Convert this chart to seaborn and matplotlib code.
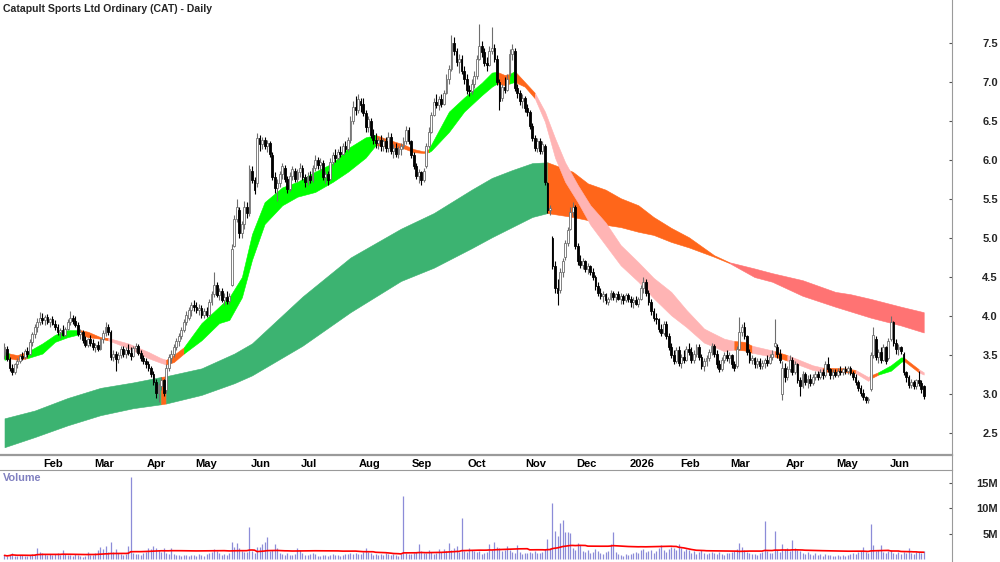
import numpy as np
import pandas as pd
import seaborn as sns
import matplotlib.pyplot as plt
from matplotlib import font_manager
from matplotlib import transforms
from matplotlib.lines import Line2D

title = "Catapult Sports Ltd Ordinary (CAT) - Daily"
start_date = "2025-01-10"
asx_holidays = ["2025-01-27", "2025-04-18", "2025-04-21", "2025-04-25", "2025-06-09",
                "2025-12-25", "2025-12-26", "2026-01-01", "2026-01-26", "2026-04-03",
                "2026-04-06", "2026-06-08"]

# daily OHLC, one line per month
opens = [
    3.50, 3.58, 3.45, 3.33, 3.28, 3.38, 3.43, 3.49, 3.47, 3.55, 3.52, 3.67, 3.77, 3.86, 3.93,
    3.98, 3.95, 3.99, 3.92, 3.96, 3.90, 3.86, 3.79, 3.82, 3.76, 3.84, 3.93, 3.97, 3.94, 3.89, 3.77, 3.80, 3.69, 3.63, 3.70,
    3.66, 3.60, 3.63, 3.58, 3.70, 3.78, 3.86, 3.80, 3.47, 3.52, 3.45, 3.50, 3.58, 3.51, 3.56, 3.53, 3.49, 3.59, 3.62, 3.53, 3.46,
    3.42, 3.38, 3.33, 3.26, 3.16, 3.02, 3.10, 3.18, 3.05, 3.34, 3.46, 3.52, 3.60, 3.68, 3.75, 3.82, 3.92, 3.98, 4.08,
    4.14, 4.12, 4.08, 4.10, 4.02, 4.06, 4.01, 4.18, 4.28, 4.40, 4.27, 4.32, 4.21, 4.25, 4.19, 4.40, 4.90, 5.24, 5.36, 5.06, 5.18, 5.40,
    5.32, 5.86, 5.74, 5.70, 6.28, 6.20, 6.26, 6.18, 6.22, 6.06, 5.78, 5.64, 5.70, 5.82, 5.90, 5.76, 5.63, 5.80, 5.86, 5.76, 5.84,
    5.90, 5.78, 5.72, 5.80, 5.74, 5.90, 6.00, 5.94, 5.96, 5.78, 5.82, 5.76, 5.98, 6.06, 6.02, 6.10, 6.08, 6.18, 6.14, 6.26, 6.50, 6.68, 6.64,
    6.76, 6.72, 6.60, 6.42, 6.50, 6.32, 6.26, 6.22, 6.26, 6.18, 6.24, 6.16, 6.30, 6.12, 6.16, 6.08, 6.14, 6.18, 6.24, 6.38, 6.24,
    6.06, 5.92, 5.80, 5.84, 5.74, 5.92, 6.18, 6.36, 6.58, 6.74, 6.70, 6.78, 6.72, 6.86, 7.04, 7.16, 7.50, 7.40, 7.26, 7.30, 7.14, 7.04,
    6.90, 6.88, 6.98, 7.08, 7.30, 7.46, 7.38, 7.24, 7.22, 7.40, 7.44, 7.30, 7.00, 6.80, 6.94, 6.90, 7.10, 7.36, 7.40, 6.92, 6.86, 6.76, 6.80,
    6.66, 6.62, 6.44, 6.28, 6.16, 6.24, 6.12, 6.18, 5.70, 5.36, 5.00, 4.64, 4.36, 4.34, 4.56, 4.76, 4.94, 5.12, 5.34, 5.40,
    4.90, 4.70, 4.66, 4.70, 4.60, 4.64, 4.56, 4.50, 4.38, 4.30, 4.26, 4.28, 4.18, 4.22, 4.30, 4.24, 4.28, 4.22, 4.26, 4.20, 4.27,
    4.22, 4.18, 4.20, 4.16, 4.22, 4.36, 4.44, 4.30, 4.18, 4.06, 3.98, 3.96, 3.84, 3.78, 3.90, 3.74, 3.60, 3.50, 3.42, 3.56,
    3.40, 3.48, 3.44, 3.58, 3.54, 3.44, 3.52, 3.60, 3.48, 3.36, 3.42, 3.46, 3.54, 3.62, 3.52, 3.38, 3.32, 3.44, 3.50, 3.46,
    3.50, 3.38, 3.36, 3.58, 3.80, 3.86, 3.74, 3.54, 3.44, 3.46, 3.38, 3.42, 3.36, 3.40, 3.44, 3.40, 3.48, 3.62, 3.60, 3.52, 3.00,
    3.34, 3.22, 3.32, 3.44, 3.28, 3.38, 3.18, 3.10, 3.26, 3.16, 3.20, 3.14, 3.22, 3.26, 3.22, 3.28, 3.24, 3.38, 3.32, 3.24, 3.28,
    3.25, 3.30, 3.28, 3.32, 3.29, 3.33, 3.27, 3.22, 3.16, 3.08, 3.02, 2.96, 2.92, 3.06, 3.50, 3.70, 3.48, 3.54, 3.44, 3.60, 3.46,
    3.70, 3.92, 3.66, 3.58, 3.60, 3.52, 3.28, 3.22, 3.12, 3.16, 3.10, 3.18, 3.14, 3.10,
]
highs = [
    3.66, 3.62, 3.47, 3.38, 3.40, 3.46, 3.52, 3.54, 3.58, 3.60, 3.70, 3.80, 3.90, 3.98, 4.05,
    4.04, 4.02, 4.03, 3.98, 4.00, 3.95, 3.90, 3.85, 3.88, 3.86, 3.96, 4.07, 4.02, 4.00, 3.92, 3.84, 3.82, 3.74, 3.72, 3.76,
    3.70, 3.66, 3.68, 3.72, 3.82, 3.92, 3.90, 3.82, 3.56, 3.55, 3.54, 3.62, 3.62, 3.60, 3.64, 3.60, 3.62, 3.66, 3.64, 3.56, 3.50,
    3.46, 3.42, 3.36, 3.30, 3.20, 3.14, 3.22, 3.20, 3.38, 3.52, 3.56, 3.64, 3.72, 3.78, 3.86, 3.96, 4.06, 4.12, 4.18,
    4.20, 4.18, 4.16, 4.14, 4.10, 4.12, 4.22, 4.32, 4.56, 4.44, 4.36, 4.36, 4.30, 4.32, 4.30, 4.92, 5.30, 5.50, 5.40, 5.22, 5.48, 5.46,
    5.94, 5.92, 5.78, 6.34, 6.32, 6.30, 6.30, 6.26, 6.24, 6.10, 5.84, 5.76, 5.86, 5.96, 5.94, 5.80, 5.84, 5.92, 5.90, 5.88, 5.96,
    5.94, 5.82, 5.84, 5.86, 5.94, 6.06, 6.04, 6.02, 6.00, 5.86, 5.86, 6.02, 6.10, 6.14, 6.14, 6.18, 6.22, 6.24, 6.30, 6.56, 6.76, 6.82, 6.84,
    6.80, 6.80, 6.64, 6.56, 6.54, 6.40, 6.34, 6.30, 6.32, 6.28, 6.30, 6.36, 6.34, 6.20, 6.22, 6.18, 6.22, 6.30, 6.44, 6.42, 6.26,
    6.10, 5.96, 5.88, 5.86, 5.90, 6.22, 6.42, 6.62, 6.80, 6.84, 6.82, 6.84, 6.90, 7.10, 7.22, 7.60, 7.58, 7.44, 7.36, 7.34, 7.20, 7.10,
    6.96, 7.04, 7.14, 7.34, 7.74, 7.52, 7.44, 7.32, 7.46, 7.70, 7.48, 7.34, 7.04, 6.98, 7.06, 7.10, 7.42, 7.48, 7.44, 6.98, 6.90, 6.84, 6.82,
    6.72, 6.64, 6.48, 6.32, 6.28, 6.28, 6.24, 6.20, 5.72, 5.42, 5.02, 4.70, 4.48, 4.62, 4.74, 4.98, 5.14, 5.40, 5.46, 5.42,
    4.94, 4.78, 4.74, 4.72, 4.68, 4.66, 4.62, 4.52, 4.44, 4.36, 4.32, 4.30, 4.24, 4.34, 4.32, 4.30, 4.32, 4.30, 4.28, 4.30, 4.30,
    4.26, 4.24, 4.26, 4.24, 4.40, 4.50, 4.48, 4.34, 4.22, 4.10, 4.04, 3.98, 3.90, 3.94, 3.94, 3.78, 3.66, 3.56, 3.60, 3.62,
    3.52, 3.56, 3.62, 3.66, 3.60, 3.56, 3.64, 3.64, 3.52, 3.46, 3.50, 3.58, 3.66, 3.64, 3.56, 3.44, 3.48, 3.54, 3.56, 3.54,
    3.52, 3.42, 3.62, 3.99, 3.90, 3.92, 3.76, 3.58, 3.50, 3.48, 3.46, 3.46, 3.44, 3.46, 3.50, 3.52, 3.56, 3.96, 3.64, 3.58, 3.42,
    3.40, 3.36, 3.50, 3.48, 3.42, 3.40, 3.22, 3.30, 3.28, 3.24, 3.26, 3.26, 3.30, 3.30, 3.32, 3.32, 3.42, 3.47, 3.34, 3.32, 3.32,
    3.34, 3.36, 3.34, 3.36, 3.36, 3.36, 3.30, 3.26, 3.18, 3.12, 3.06, 2.98, 2.96, 3.54, 3.86, 3.74, 3.58, 3.60, 3.64, 3.62, 3.72,
    4.00, 3.94, 3.70, 3.64, 3.62, 3.54, 3.30, 3.24, 3.20, 3.18, 3.20, 3.30, 3.18, 3.12,
]
lows = [
    3.45, 3.42, 3.30, 3.25, 3.26, 3.34, 3.40, 3.44, 3.45, 3.48, 3.50, 3.62, 3.72, 3.80, 3.88,
    3.90, 3.88, 3.90, 3.86, 3.88, 3.82, 3.76, 3.72, 3.74, 3.74, 3.82, 3.88, 3.90, 3.86, 3.74, 3.70, 3.66, 3.60, 3.60, 3.62,
    3.56, 3.54, 3.55, 3.56, 3.66, 3.74, 3.76, 3.44, 3.42, 3.30, 3.40, 3.46, 3.48, 3.46, 3.50, 3.44, 3.47, 3.54, 3.50, 3.42, 3.38,
    3.34, 3.30, 3.22, 3.12, 2.95, 2.90, 3.05, 2.98, 3.02, 3.30, 3.40, 3.48, 3.56, 3.62, 3.70, 3.80, 3.88, 3.95, 4.00,
    4.06, 4.04, 4.02, 3.98, 3.97, 3.99, 4.00, 4.14, 4.24, 4.24, 4.20, 4.18, 4.14, 4.16, 4.15, 4.38, 4.88, 5.20, 5.00, 5.00, 5.12, 5.26,
    5.28, 5.70, 5.56, 5.66, 6.12, 6.14, 6.14, 6.10, 6.04, 5.74, 5.58, 5.48, 5.66, 5.76, 5.72, 5.58, 5.60, 5.74, 5.72, 5.72, 5.78,
    5.74, 5.66, 5.68, 5.70, 5.72, 5.86, 5.88, 5.86, 5.74, 5.70, 5.68, 5.74, 5.94, 5.98, 6.00, 6.04, 6.06, 6.10, 6.12, 6.22, 6.46, 6.58, 6.60,
    6.62, 6.56, 6.36, 6.36, 6.28, 6.20, 6.16, 6.14, 6.12, 6.12, 6.10, 6.10, 6.08, 6.02, 6.04, 6.02, 6.06, 6.14, 6.20, 6.20, 6.02,
    5.88, 5.76, 5.70, 5.68, 5.72, 5.90, 6.16, 6.34, 6.56, 6.66, 6.64, 6.68, 6.70, 6.84, 6.98, 7.14, 7.34, 7.20, 7.12, 7.10, 6.98, 6.84,
    6.82, 6.84, 6.92, 7.04, 7.28, 7.32, 7.20, 7.14, 7.20, 7.36, 7.26, 6.96, 6.64, 6.76, 6.86, 6.88, 7.08, 7.28, 6.88, 6.80, 6.70, 6.66, 6.62,
    6.56, 6.40, 6.24, 6.12, 6.10, 6.08, 6.08, 5.68, 5.32, 5.30, 4.60, 4.30, 4.14, 4.30, 4.50, 4.72, 4.90, 5.10, 5.28, 4.86,
    4.66, 4.62, 4.60, 4.56, 4.54, 4.52, 4.46, 4.34, 4.26, 4.22, 4.18, 4.16, 4.14, 4.20, 4.20, 4.18, 4.20, 4.16, 4.16, 4.18, 4.18,
    4.12, 4.10, 4.14, 4.12, 4.20, 4.30, 4.26, 4.14, 4.02, 3.94, 3.90, 3.80, 3.74, 3.76, 3.70, 3.56, 3.46, 3.38, 3.40, 3.36,
    3.34, 3.40, 3.42, 3.50, 3.40, 3.40, 3.48, 3.44, 3.32, 3.30, 3.36, 3.42, 3.50, 3.48, 3.34, 3.28, 3.30, 3.40, 3.42, 3.40,
    3.34, 3.30, 3.34, 3.56, 3.74, 3.70, 3.50, 3.40, 3.38, 3.34, 3.34, 3.32, 3.32, 3.34, 3.36, 3.38, 3.44, 3.60, 3.46, 3.40, 2.92,
    3.16, 3.18, 3.28, 3.24, 3.26, 3.14, 2.98, 3.08, 3.12, 3.08, 3.10, 3.12, 3.18, 3.18, 3.20, 3.20, 3.22, 3.28, 3.20, 3.20, 3.22,
    3.22, 3.24, 3.24, 3.26, 3.26, 3.24, 3.18, 3.12, 3.04, 2.98, 2.92, 2.88, 2.88, 3.04, 3.46, 3.44, 3.40, 3.40, 3.42, 3.38, 3.44,
    3.68, 3.62, 3.52, 3.50, 3.52, 3.24, 3.16, 3.08, 3.08, 3.06, 3.06, 3.10, 3.02, 2.94,
]
closes = [
    3.60, 3.45, 3.33, 3.28, 3.38, 3.43, 3.49, 3.46, 3.55, 3.52, 3.67, 3.77, 3.86, 3.93, 3.98,
    3.95, 3.99, 3.92, 3.96, 3.90, 3.86, 3.79, 3.82, 3.76, 3.84, 3.93, 3.97, 3.94, 3.89, 3.77, 3.80, 3.69, 3.63, 3.70, 3.66,
    3.60, 3.63, 3.58, 3.70, 3.78, 3.86, 3.80, 3.47, 3.52, 3.45, 3.50, 3.58, 3.51, 3.56, 3.53, 3.49, 3.59, 3.62, 3.53, 3.46, 3.42,
    3.38, 3.33, 3.26, 3.16, 3.02, 3.12, 3.18, 3.02, 3.34, 3.48, 3.52, 3.60, 3.68, 3.75, 3.82, 3.92, 4.02, 4.08, 4.14,
    4.12, 4.08, 4.10, 4.02, 4.06, 4.01, 4.18, 4.28, 4.40, 4.27, 4.32, 4.21, 4.25, 4.19, 4.26, 4.86, 5.24, 5.40, 5.06, 5.18, 5.40, 5.32,
    5.88, 5.74, 5.62, 6.28, 6.20, 6.26, 6.18, 6.22, 6.08, 5.78, 5.64, 5.70, 5.82, 5.92, 5.76, 5.63, 5.80, 5.88, 5.76, 5.84, 5.90,
    5.78, 5.72, 5.80, 5.74, 5.90, 6.00, 5.94, 5.98, 5.78, 5.82, 5.74, 5.98, 6.06, 6.02, 6.10, 6.08, 6.18, 6.14, 6.26, 6.50, 6.68, 6.64, 6.78,
    6.70, 6.60, 6.42, 6.52, 6.32, 6.26, 6.22, 6.26, 6.18, 6.24, 6.16, 6.30, 6.12, 6.16, 6.08, 6.14, 6.18, 6.24, 6.38, 6.24, 6.06,
    5.92, 5.80, 5.84, 5.74, 5.86, 6.18, 6.36, 6.58, 6.74, 6.70, 6.78, 6.72, 6.86, 7.04, 7.16, 7.50, 7.40, 7.26, 7.30, 7.14, 7.04, 6.90,
    6.88, 6.98, 7.08, 7.30, 7.46, 7.38, 7.24, 7.22, 7.40, 7.44, 7.30, 7.00, 6.76, 6.94, 6.90, 7.04, 7.36, 7.42, 6.92, 6.86, 6.76, 6.80, 6.66,
    6.62, 6.44, 6.28, 6.16, 6.24, 6.12, 6.20, 5.72, 5.36, 5.38, 4.64, 4.36, 4.30, 4.56, 4.70, 4.94, 5.10, 5.34, 5.40, 4.90,
    4.70, 4.66, 4.70, 4.60, 4.64, 4.56, 4.50, 4.38, 4.30, 4.26, 4.28, 4.20, 4.22, 4.30, 4.24, 4.28, 4.22, 4.26, 4.20, 4.27, 4.22,
    4.18, 4.20, 4.16, 4.22, 4.36, 4.44, 4.30, 4.18, 4.06, 3.98, 3.96, 3.84, 3.78, 3.90, 3.74, 3.60, 3.50, 3.42, 3.56, 3.40,
    3.48, 3.44, 3.58, 3.54, 3.44, 3.52, 3.60, 3.48, 3.36, 3.42, 3.46, 3.54, 3.62, 3.52, 3.38, 3.32, 3.44, 3.50, 3.46, 3.50,
    3.38, 3.34, 3.58, 3.80, 3.86, 3.74, 3.54, 3.44, 3.46, 3.38, 3.42, 3.36, 3.40, 3.44, 3.40, 3.48, 3.52, 3.66, 3.52, 3.44, 3.34,
    3.22, 3.32, 3.44, 3.28, 3.38, 3.18, 3.10, 3.26, 3.16, 3.20, 3.14, 3.22, 3.26, 3.22, 3.28, 3.24, 3.38, 3.32, 3.24, 3.28, 3.25,
    3.30, 3.28, 3.32, 3.29, 3.33, 3.27, 3.22, 3.16, 3.08, 3.02, 2.96, 2.92, 2.94, 3.50, 3.76, 3.48, 3.54, 3.44, 3.60, 3.42, 3.68,
    3.92, 3.66, 3.58, 3.60, 3.55, 3.28, 3.22, 3.12, 3.16, 3.10, 3.18, 3.14, 3.06, 2.98,
]
# volume in millions of shares
volumes = [
    0.8, 0.6, 0.9, 1.3, 0.7, 0.6, 0.9, 0.8, 0.7, 0.6, 0.9, 1.0, 1.1, 2.3, 1.4,
    1.2, 1.0, 0.9, 1.1, 0.8, 1.0, 1.2, 0.9, 1.8, 1.1, 0.9, 0.8, 0.7, 1.0, 0.9, 0.6, 0.5, 0.7, 1.4, 0.8,
    0.9, 1.2, 1.8, 2.5, 2.1, 2.6, 1.4, 3.4, 1.5, 2.0, 1.2, 1.1, 0.9, 1.0, 2.6, 16.2, 1.3, 1.0, 1.1, 0.9, 1.2,
    1.5, 2.3, 2.0, 2.7, 2.2, 1.8, 1.4, 2.2, 1.3, 1.1, 2.3, 1.0, 0.8, 0.9, 0.7, 0.8, 0.9, 0.6, 0.8,
    0.9, 0.7, 1.0, 0.8, 0.7, 1.0, 1.2, 1.4, 2.1, 1.7, 1.2, 0.9, 1.0, 0.8, 1.3, 3.4, 2.5, 3.2, 2.3, 1.6, 1.4, 1.5,
    6.4, 1.7, 1.2, 2.5, 2.4, 3.1, 3.4, 4.4, 1.6, 1.9, 3.1, 2.2, 1.3, 1.0, 0.9, 1.2, 0.8, 0.9, 1.1, 2.2, 1.9,
    1.2, 0.9, 0.8, 1.1, 1.3, 1.0, 0.7, 0.6, 0.8, 0.9, 0.7, 0.8, 1.0, 0.9, 0.8, 0.7, 0.9, 1.0, 1.1, 1.2, 1.0, 1.3, 1.1,
    1.0, 1.4, 2.3, 1.5, 1.2, 0.9, 1.1, 0.8, 1.0, 0.9, 1.2, 1.0, 0.8, 1.1, 0.9, 0.7, 1.0, 12.4, 1.3, 1.1, 1.0,
    1.2, 1.5, 3.1, 1.6, 1.3, 1.2, 1.9, 1.4, 1.1, 1.3, 2.0, 1.4, 2.0, 1.6, 3.3, 1.8, 2.2, 2.7, 1.5, 8.1, 1.6, 1.4,
    2.2, 1.8, 1.6, 1.4, 1.7, 1.0, 1.2, 1.5, 3.1, 1.9, 3.5, 2.4, 2.2, 1.6, 1.8, 2.6, 1.9, 1.5, 1.2, 2.8, 1.4, 1.0, 1.3,
    1.3, 1.5, 1.2, 1.6, 1.3, 1.2, 1.4, 2.0, 4.0, 2.2, 11.0, 5.6, 4.5, 7.2, 7.8, 5.4, 5.4, 5.1, 2.2, 1.8,
    3.3, 2.9, 1.6, 1.4, 1.8, 1.2, 1.5, 2.0, 1.6, 1.3, 1.1, 1.4, 1.7, 3.1, 5.4, 1.5, 1.0, 0.9, 0.7, 1.1, 0.8,
    1.0, 1.3, 1.5, 1.2, 1.8, 2.1, 1.4, 1.6, 1.9, 1.3, 1.7, 2.2, 2.9, 1.8, 1.5, 2.0, 2.4, 2.3, 1.9, 3.1,
    2.2, 1.6, 2.0, 1.8, 1.3, 1.6, 1.1, 1.4, 1.8, 1.2, 1.0, 1.3, 1.5, 1.2, 1.0, 1.4, 1.1, 0.9, 1.2, 1.3,
    1.4, 1.6, 2.0, 3.3, 2.4, 1.8, 1.5, 1.2, 1.0, 1.1, 0.9, 1.2, 1.4, 7.6, 1.6, 1.3, 1.2, 5.6, 1.8, 1.5, 3.1,
    2.0, 2.3, 1.7, 3.8, 2.2, 1.9, 1.6, 1.3, 1.1, 1.4, 1.0, 0.9, 1.2, 0.8, 1.0, 0.7, 1.1, 0.9, 0.8, 0.6, 0.7,
    0.8, 0.6, 0.9, 0.7, 0.8, 1.0, 1.2, 1.1, 1.4, 1.6, 2.5, 1.5, 1.3, 7.0, 2.9, 1.6, 1.8, 2.9, 1.5, 1.2, 1.6,
    1.8, 1.3, 1.1, 1.4, 1.0, 1.5, 1.2, 2.2, 1.3, 1.0, 1.5, 1.4, 1.3, 1.6,
]

# short-term moving average ribbon, edges read at these bars; trend applies to the span to the next bar
short_bars = [0, 2, 5, 9, 15, 20, 25, 30, 33, 38, 41, 49, 57, 62, 64, 67, 71, 78, 85, 89,
              94, 98, 103, 110, 116, 123, 130, 136, 143, 147, 152, 158, 162, 166, 168, 169, 176, 182, 189, 193,
              195, 198, 200, 202, 206, 210, 214, 218, 222, 227, 232, 238, 244, 251, 257, 264, 270, 277, 280, 285,
              289, 293, 296, 304, 305, 310, 320, 324, 333, 337, 342, 343, 346, 351, 355, 356, 362, 364]
short_top = [3.54, 3.52, 3.50, 3.54, 3.65, 3.76, 3.82, 3.82, 3.80, 3.73, 3.72, 3.65, 3.54, 3.46, 3.44, 3.50, 3.60, 3.91, 4.12, 4.24,
             4.50, 5.05, 5.46, 5.65, 5.72, 5.85, 5.96, 6.15, 6.29, 6.32, 6.26, 6.20, 6.14, 6.11, 6.14, 6.20, 6.62, 6.80, 6.99, 7.12,
             7.13, 7.09, 7.10, 7.14, 7.00, 6.86, 6.62, 6.28, 5.97, 5.68, 5.42, 5.20, 4.91, 4.69, 4.49, 4.31, 4.08, 3.84, 3.79, 3.71,
             3.68, 3.67, 3.62, 3.56, 3.55, 3.50, 3.37, 3.34, 3.33, 3.31, 3.22, 3.24, 3.28, 3.37, 3.47, 3.47, 3.32, 3.28]
short_bot = [3.44, 3.46, 3.44, 3.46, 3.52, 3.67, 3.73, 3.77, 3.73, 3.71, 3.69, 3.59, 3.46, 3.40, 3.38, 3.41, 3.52, 3.69, 3.91, 3.95,
             4.24, 4.72, 5.18, 5.42, 5.53, 5.59, 5.72, 5.85, 6.03, 6.19, 6.17, 6.15, 6.10, 6.09, 6.10, 6.12, 6.36, 6.62, 6.83, 6.94,
             6.98, 6.96, 6.98, 7.00, 6.94, 6.79, 6.49, 6.03, 5.72, 5.46, 5.17, 4.91, 4.65, 4.44, 4.23, 4.01, 3.86, 3.66, 3.62, 3.55,
             3.57, 3.56, 3.53, 3.48, 3.48, 3.43, 3.31, 3.29, 3.28, 3.27, 3.17, 3.20, 3.25, 3.30, 3.41, 3.43, 3.28, 3.25]
short_trend = ["up", "mixed", "mixed", "up", "up", "up", "up", "mixed", "mixed", "mixed", "down", "down", "down", "down", "mixed", "mixed", "up", "up", "up", "up",
               "up", "up", "up", "up", "up", "up", "up", "up", "up", "mixed", "mixed", "mixed", "mixed", "mixed", "up", "up", "up", "up", "up", "up",
               "mixed", "mixed", "up", "mixed", "mixed", "down", "down", "down", "down", "down", "down", "down", "down", "down", "down", "down", "down", "down", "down", "down",
               "mixed", "mixed", "down", "down", "mixed", "down", "down", "mixed", "mixed", "down", "down", "mixed", "up", "up", "up", "mixed", "down", "down"]

# long-term moving average ribbon
long_bars = [0, 12, 25, 38, 51, 62, 64, 78, 91, 98, 118, 137, 157, 170, 185, 193, 201, 209, 215, 225,
             231, 238, 244, 251, 257, 264, 271, 281, 287, 297, 304, 316, 329, 335, 343, 355, 364]
long_top = [2.69, 2.79, 2.95, 3.08, 3.15, 3.22, 3.23, 3.33, 3.52, 3.65, 4.25, 4.75, 5.12, 5.32, 5.62, 5.77, 5.87, 5.96, 5.97, 5.85,
            5.70, 5.62, 5.51, 5.42, 5.27, 5.13, 5.01, 4.78, 4.69, 4.61, 4.55, 4.46, 4.31, 4.28, 4.22, 4.12, 4.05]
long_bot = [2.32, 2.45, 2.60, 2.73, 2.82, 2.87, 2.88, 2.99, 3.14, 3.24, 3.62, 4.05, 4.45, 4.62, 4.87, 5.01, 5.14, 5.27, 5.32, 5.27,
            5.23, 5.17, 5.14, 5.08, 5.04, 4.95, 4.88, 4.76, 4.68, 4.50, 4.44, 4.26, 4.12, 4.06, 3.98, 3.88, 3.79]
long_trend = ["up", "up", "up", "up", "up", "mixed", "up", "up", "up", "up", "up", "up", "up", "up", "up", "up", "up", "up", "mixed", "mixed",
              "mixed", "mixed", "mixed", "mixed", "mixed", "mixed", "mixed", "mixed", "down", "down", "down", "down", "down", "down", "down", "down", "down"]

lengths = {len(opens), len(highs), len(lows), len(closes), len(volumes)}
if len(lengths) != 1:
    raise SystemExit(f"length mismatch {len(opens)} {len(highs)} {len(lows)} {len(closes)} {len(volumes)}")

short_colors = {"up": "#00ff00", "mixed": "#ff661a", "down": "#ffb4b4"}
long_colors = {"up": "#3cb371", "mixed": "#ff661a", "down": "#ff7373"}

sns.set_style("white")


def first_font(names):
    for name in names:
        try:
            font_manager.findfont(name, fallback_to_default=False)
            return name
        except ValueError:
            pass
    return "DejaVu Sans"


main_font = first_font(["Liberation Sans Narrow", "Arial Narrow", "Liberation Sans"])
narrow = main_font != "Liberation Sans"
plt.rcParams["font.family"] = [main_font, "DejaVu Sans"]

n = len(closes)
x = np.arange(n)
o, h, l, c = (np.array(v) for v in (opens, highs, lows, closes))
dates = pd.date_range(start_date, periods=n, freq=pd.offsets.CustomBusinessDay(holidays=asx_holidays))
month_id = dates.year * 12 + dates.month
starts = [i for i in range(1, n) if month_id[i] != month_id[i - 1]]
month_labels = [str(dates[i].year) if dates[i].month == 1 else dates[i].strftime("%b") for i in starts]

W, H = 1000, 562
fig = plt.figure(figsize=(W / 100, H / 100), dpi=100)
ax = fig.add_axes([0, 107 / H, 952 / W, 455 / H])
axv = fig.add_axes([0, 0, 952 / W, 92 / H], sharex=ax)


def draw_ribbon(bars, top, bot, trend, colors, z):
    bars, top, bot = np.array(bars), np.array(top), np.array(bot)
    k = 0
    while k < len(bars) - 1:
        j = k
        while j + 1 < len(bars) - 1 and trend[j + 1] == trend[k]:
            j += 1
        sl = slice(k, j + 2)
        col = colors[trend[k]]
        ax.fill_between(bars[sl], bot[sl], top[sl], color=col, edgecolor=col, linewidth=0.4, zorder=z)
        k = j + 1


draw_ribbon(long_bars, long_top, long_bot, long_trend, long_colors, 1)
draw_ribbon(short_bars, short_top, short_bot, short_trend, short_colors, 2)

# candlesticks
up = c >= o
body = np.maximum(np.abs(c - o), 0.012)
base = np.minimum(o, c)
ax.vlines(x[up], l[up], h[up], color="#6e6e6e", linewidth=0.8, zorder=3)
ax.vlines(x[~up], l[~up], h[~up], color="black", linewidth=0.8, zorder=3)
ax.bar(x[up], body[up], bottom=base[up], width=0.72, color="white", edgecolor="#6e6e6e", linewidth=0.6, zorder=4)
ax.bar(x[~up], body[~up], bottom=base[~up], width=0.72, color="black", edgecolor="black", linewidth=0.6, zorder=4)

ax.set_xlim(-1.78, 375.2)
ax.set_ylim(2.22, 8.05)
ax.yaxis.tick_right()
yt = np.arange(2.5, 7.6, 0.5)
ax.set_yticks(yt)
ax.set_yticklabels([f"{v:.1f}" for v in yt])
ax.tick_params(axis="y", direction="in", length=2, width=0.8, color="#555555", pad=33, labelsize=8)
for t in ax.get_yticklabels():
    t.set_horizontalalignment("right")
    t.set_fontweight("bold")
ax.set_xticks(starts)
ax.tick_params(axis="x", direction="out", length=3, width=0.8, color="#9a9a9a", labelbottom=False)
for side in ("top", "left"):
    ax.spines[side].set_visible(False)
ax.spines["right"].set_color("#9a9a9a")
ax.spines["bottom"].set_color("#9a9a9a")
ax.spines["bottom"].set_linewidth(1.6)

trans = transforms.blended_transform_factory(ax.transData, ax.transAxes)
for s, lab in zip(starts, month_labels):
    ax.text(s + 0.4, -12 / 455, lab, transform=trans, ha="left", va="baseline",
            fontsize=8, fontweight="bold", color="black", clip_on=False)

# volume panel
vol = np.array(volumes)
vol_ma = pd.Series(vol).rolling(50, min_periods=1).mean()
axv.vlines(x, 0, vol, color="#8c8cd8", linewidth=0.9)
sns.lineplot(x=x, y=vol_ma.values, ax=axv, color="#ff0000", linewidth=1.2)
axv.set_ylim(-0.5, 17.5)
axv.yaxis.tick_right()
axv.set_yticks([5, 10, 15])
axv.set_yticklabels(["5M", "10M", "15M"])
axv.tick_params(axis="y", direction="in", length=2, width=0.8, color="#555555", pad=33, labelsize=8)
for t in axv.get_yticklabels():
    t.set_horizontalalignment("right")
    t.set_fontweight("bold")
axv.tick_params(axis="x", bottom=False, labelbottom=False)
for side in ("bottom", "left"):
    axv.spines[side].set_visible(False)
axv.spines["right"].set_color("#9a9a9a")
axv.spines["top"].set_color("#9a9a9a")
axv.text(3 / 952, (H - 478) / 92, "Volume", transform=axv.transAxes, ha="left", va="center",
         fontsize=7.8 if not narrow else 8.5, fontweight="bold", color="#8080c0")

fig.add_artist(Line2D([952 / W, 952 / W], [92 / H, 107 / H], color="#9a9a9a", linewidth=0.8))
fig.text(3 / W, 1 - 8.5 / H, title, ha="left", va="center",
         fontsize=9 if narrow else 7.6, fontweight="bold")

fig.savefig("out.png", dpi=100)
